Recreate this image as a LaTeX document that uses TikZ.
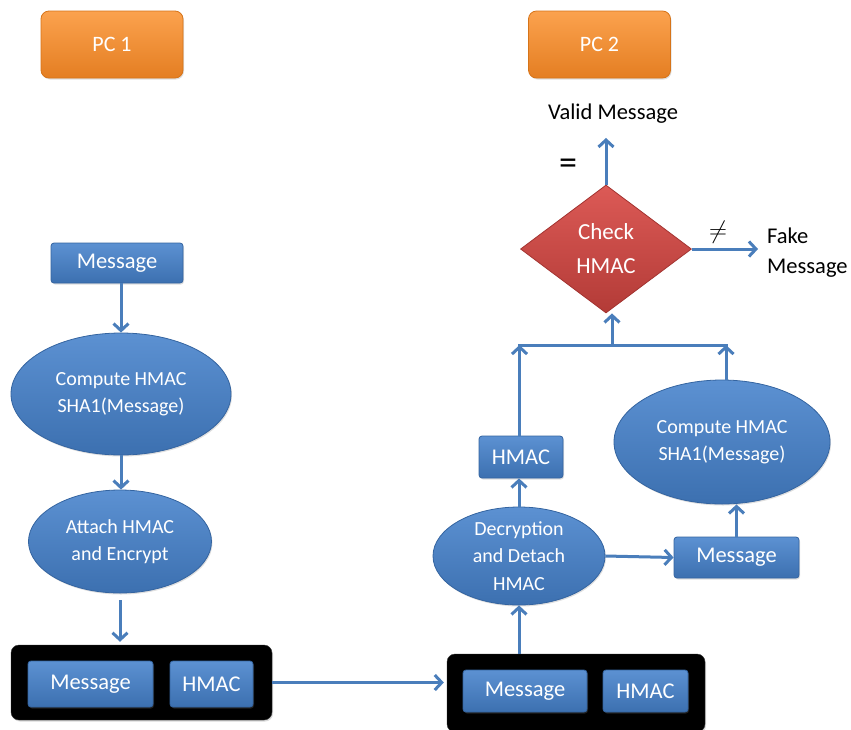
\documentclass[tikz,border=0pt]{standalone}
\usepackage{fontspec}
\setmainfont{Carlito}
\usetikzlibrary{arrows.meta,shapes.geometric,shadows,calc}

\definecolor{bluetop}{HTML}{5C91D2}
\definecolor{bluebot}{HTML}{3C70B0}
\definecolor{blueedge}{HTML}{3464A0}
\definecolor{flowblue}{HTML}{4A7EBB}
\definecolor{orangetop}{HTML}{FBA24E}
\definecolor{orangebot}{HTML}{E47E22}
\definecolor{orangeedge}{HTML}{D67419}
\definecolor{redtop}{HTML}{DC5A56}
\definecolor{redbot}{HTML}{B33B37}
\definecolor{rededge}{HTML}{A33431}

\tikzset{
  bluebox/.style={rectangle, rounded corners=3pt, draw=blueedge, line width=0.8pt,
    top color=bluetop, bottom color=bluebot, text=white, inner sep=0pt,
    font=\fontsize{22.5}{26}\selectfont, drop shadow={opacity=0.25, shadow xshift=1pt, shadow yshift=-1.5pt}},
  blueoval/.style={ellipse, draw=blueedge, line width=0.8pt,
    top color=bluetop, bottom color=bluebot, text=white, inner sep=0pt, align=center,
    font=\fontsize{20}{27.5}\selectfont, drop shadow={opacity=0.25, shadow xshift=1pt, shadow yshift=-1.5pt}},
  pcbox/.style={rectangle, rounded corners=8pt, draw=orangeedge, line width=0.8pt,
    top color=orangetop, bottom color=orangebot, text=white, inner sep=0pt,
    minimum width=142pt, minimum height=67pt, font=\fontsize{22}{26}\selectfont,
    drop shadow={opacity=0.25, shadow xshift=1pt, shadow yshift=-1.5pt}},
  packet/.style={rectangle, rounded corners=8pt, fill=black, draw=black!80, inner sep=0pt,
    drop shadow={opacity=0.3, shadow xshift=1pt, shadow yshift=-1.5pt}},
  decision/.style={diamond, draw=rededge, line width=0.8pt, top color=redtop, bottom color=redbot,
    text=white, inner sep=0pt, align=center, font=\fontsize{23}{34}\selectfont,
    minimum width=171pt, minimum height=128pt},
  plain/.style={text=black, font=\fontsize{22.5}{30}\selectfont, inner sep=0pt},
  flow/.style={draw=flowblue, line width=3pt,
    -{Straight Barb[length=7pt,width=15pt]}},
  wire/.style={draw=flowblue, line width=3pt}
}

\begin{document}
\begin{tikzpicture}[x=1pt,y=-1pt]
\useasboundingbox (0,0) rectangle (851,729);

% machine headings
\node[pcbox] (pc1) at (112,44.5) {PC 1};
\node[pcbox] (pc2) at (599.5,44.5) {PC 2};

% sender side
\node[bluebox, minimum width=132pt, minimum height=40pt] (msgL) at (117,263) {Message};
\node[blueoval, minimum width=220pt, minimum height=122pt] (hashL) at (121,394) {Compute HMAC\\SHA1(Message)};
\node[blueoval, minimum width=183pt, minimum height=103pt] (enc) at (120,541.5) {Attach HMAC\\and Encrypt};

\node[packet, minimum width=261pt, minimum height=75pt] (pktL) at (141.5,682.5) {};
\node[bluebox, minimum width=125pt, minimum height=46pt] (pktLmsg) at (90.5,684) {Message};
\node[bluebox, minimum width=83pt, minimum height=46pt] (pktLmac) at (211.5,684) {HMAC};

% receiver side
\node[packet, minimum width=258pt, minimum height=78pt] (pktR) at (576,693) {};
\node[bluebox, minimum width=124pt, minimum height=42pt] (pktRmsg) at (525,691) {Message};
\node[bluebox, minimum width=85pt, minimum height=42pt] (pktRmac) at (645.5,691) {HMAC};

\node[blueoval, minimum width=172pt, minimum height=98pt] (dec) at (519,556) {Decryption\\and Detach\\HMAC};
\node[bluebox, minimum width=84pt, minimum height=42pt] (macR) at (521,457) {HMAC};
\node[blueoval, minimum width=216pt, minimum height=124pt] (hashR) at (722,442) {Compute HMAC\\SHA1(Message)};
\node[bluebox, minimum width=125pt, minimum height=41pt] (msgR) at (736.5,557.5) {Message};

\node[decision] (check) at (606,249) {Check\\HMAC};

\node[plain] (valid) at (613,114) {Valid Message};
\node[plain, align=left, anchor=west] (fake) at (767,253) {Fake\\Message};
\node[text=black, inner sep=0pt, font=\fontsize{36}{36}\selectfont] (eq) at (568,167) {=};
\node[text=black, inner sep=0pt, font=\fontsize{32}{32}\selectfont] (neq) at (718,232) {$\neq$};

% junction points of the merge line
\coordinate (jl) at (519.5,345);
\coordinate (jr) at (726,345);
\coordinate (jm) at (612,345);

% sender connectors
\draw[flow] (hashL.north |- msgL.south) -- (hashL.north);
\draw[flow] (hashL.south) -- (enc.north -| hashL.south);
\draw[flow, shorten <=7pt, shorten >=3pt] (enc.south) -- (pktL.north -| enc.south);
\draw[flow, shorten >=3pt] (pktL.east) -- (pktL.east -| pktR.west);

% receiver connectors
\draw[flow] (dec.south |- pktR.north) -- (dec.south);
\draw[flow] (dec.north) -- (macR.south -| dec.north);
\draw[flow] (macR.north -| jl) -- (jl);
\draw[flow] (hashR.north -| jr) -- (jr);
\draw[wire, line cap=rect] (jl) -- (jr);
\draw[flow] (jm) -- (check.south -| jm);
\draw[flow] (dec.east) -- (msgR.west);
\draw[flow] (msgR.north) -- (hashR.south -| msgR.north);
\draw[flow, shorten >=14pt] (check.north) -- (valid.south -| check.north);
\draw[flow, shorten >=9pt] (check.east) -- (check.east -| fake.west);
\end{tikzpicture}
\end{document}
